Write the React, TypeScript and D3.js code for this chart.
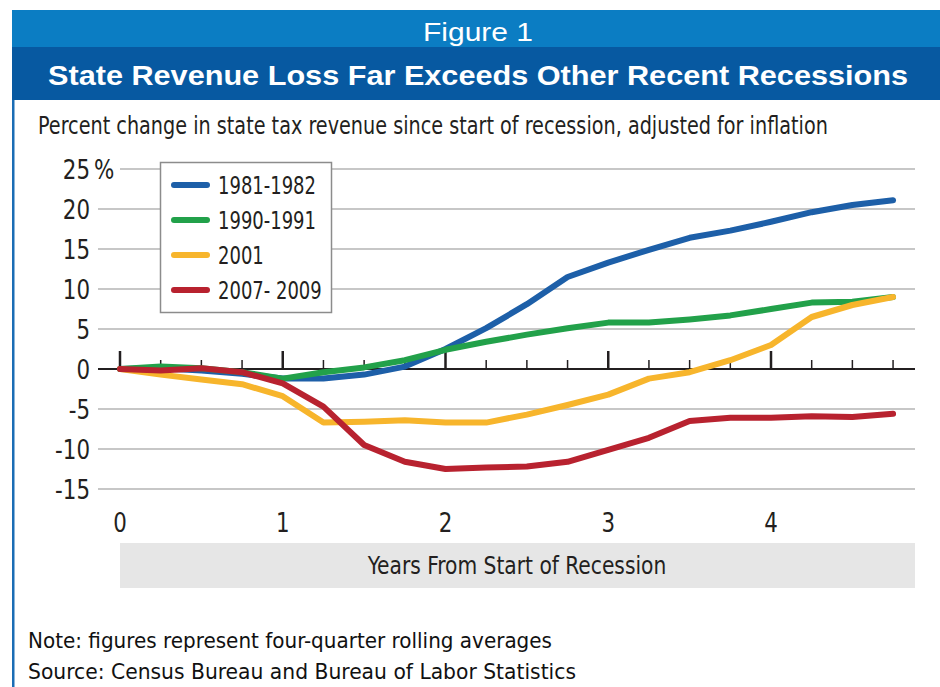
import * as d3 from "d3";

const years = [0, 0.25, 0.5, 0.75, 1, 1.25, 1.5, 1.75, 2, 2.25, 2.5, 2.75, 3, 3.25, 3.5, 3.75, 4, 4.25, 4.5, 4.75];
const r1981 = [0, 0.1, -0.2, -0.6, -1.2, -1.2, -0.7, 0.3, 2.5, 5.1, 8.1, 11.5, 13.3, 14.9, 16.4, 17.3, 18.4, 19.6, 20.5, 21.1];
const r1990 = [0, 0.3, 0.1, -0.4, -1.2, -0.4, 0.2, 1.1, 2.4, 3.4, 4.3, 5.1, 5.8, 5.8, 6.2, 6.7, 7.5, 8.3, 8.4, 9.0];
const r2001 = [0, -0.7, -1.3, -1.9, -3.4, -6.7, -6.6, -6.4, -6.7, -6.7, -5.7, -4.5, -3.2, -1.2, -0.4, 1.1, 3.0, 6.5, 8.0, 9.0];
const r2007 = [0, -0.2, 0.1, -0.4, -1.8, -4.7, -9.5, -11.6, -12.5, -12.3, -12.2, -11.6, -10.1, -8.6, -6.5, -6.1, -6.1, -5.9, -6.0, -5.6];

const seriesNames = ["1981-1982", "1990-1991", "2001", "2007- 2009"];
const seriesColors = ["#1d5fa8", "#22a14a", "#f7b52c", "#b8222f"];
const seriesValues = [r1981, r1990, r2001, r2007];

const yTicks = [25, 20, 15, 10, 5, 0, -5, -10, -15];
const xTicks = [0, 1, 2, 3, 4];
const minorTicks = [0.25, 0.5, 0.75, 1.25, 1.5, 1.75, 2.25, 2.5, 2.75, 3.25, 3.5, 3.75, 4.25, 4.5, 4.75];

const narrow = "'Liberation Sans Narrow', 'DejaVu Sans Condensed', sans-serif";
const sans = "'Liberation Sans', Arial, sans-serif";
const ink = "#231f20";

// condensed text: squeeze glyphs horizontally around the anchor point
function Condensed({ x, y, sx, size, anchor, children }: {
  x: number; y: number; sx: number; size: number; anchor?: string; children: React.ReactNode
}) {
  return (
    <text transform={`translate(${x},${y}) scale(${sx},1)`} textAnchor={anchor ?? "start"}
      fill={ink} fontFamily={narrow} fontSize={size}>{children}</text>
  );
}

export default function App() {
  const width = 940;
  const height = 687;

  const x = d3.scaleLinear().domain([0, 4]).range([120, 771]);
  const y = d3.scaleLinear().domain([-15, 25]).range([489, 169]);

  const line = d3.line<number>()
    .x((_, i) => x(years[i]))
    .y(d => y(d));

  const gridLeft = 98;
  const gridRight = 915;

  return (
    <svg width={width} height={height} style={{ position: "absolute", left: 0, top: 0, display: "block" }}>
      <rect x={0} y={0} width={width} height={height} fill="#fff" />
      {/* header bands */}
      <rect x={12} y={10} width={928} height={37} fill="#0b7dc3" />
      <rect x={12} y={47} width={928} height={53} fill="#0759a1" />
      <rect x={12} y={100} width={2.5} height={587} fill="#1a6db5" />
      <text x={478} y={41} textAnchor="middle" fill="#fff" fontFamily={sans} fontSize={25}
        textLength={110} lengthAdjust="spacingAndGlyphs">Figure 1</text>
      <text x={478} y={85} textAnchor="middle" fill="#fff" fontFamily={sans} fontWeight="bold" fontSize={28}
        textLength={860} lengthAdjust="spacingAndGlyphs">State Revenue Loss Far Exceeds Other Recent Recessions</text>

      <Condensed x={38} y={134} sx={0.855} size={25}>
        Percent change in state tax revenue since start of recession, adjusted for inflation
      </Condensed>

      {/* gridlines */}
      {yTicks.filter(t => t !== 0).map(t => (
        <line key={t} x1={t === 25 ? 120 : gridLeft} x2={gridRight} y1={y(t)} y2={y(t)} stroke="#b5b5b5" strokeWidth={1.5} />
      ))}
      {yTicks.map(t => (
        <Condensed key={"l" + t} x={90} y={y(t) + 10} sx={0.88} size={27} anchor="end">{t}</Condensed>
      ))}
      <Condensed x={94} y={y(25) + 10} sx={0.88} size={27}>%</Condensed>

      {/* zero axis and ticks */}
      <line x1={gridLeft} x2={gridRight} y1={y(0)} y2={y(0)} stroke={ink} strokeWidth={2} />
      {xTicks.map(t => (
        <line key={"M" + t} x1={x(t)} x2={x(t)} y1={y(0)} y2={y(0) - 18} stroke={ink} strokeWidth={2.5} />
      ))}
      {minorTicks.map(t => (
        <line key={"m" + t} x1={x(t)} x2={x(t)} y1={y(0)} y2={y(0) - 9} stroke={ink} strokeWidth={1.5} />
      ))}
      {xTicks.map(t => (
        <Condensed key={"x" + t} x={x(t)} y={532} sx={0.88} size={27} anchor="middle">{t}</Condensed>
      ))}

      {/* series */}
      {seriesValues.map((vals, i) => (
        <path key={seriesNames[i]} d={line(vals) ?? ""} fill="none" stroke={seriesColors[i]}
          strokeWidth={6} strokeLinecap="round" strokeLinejoin="round" />
      ))}

      {/* legend */}
      <rect x={160.5} y={162.5} width={171} height={150} fill="#fff" stroke="#8c8c8c" strokeWidth={1.5} />
      {seriesNames.map((name, i) => (
        <g key={"lg" + name} transform={`translate(0, ${185 + i * 35})`}>
          <line x1={174} x2={207} y1={0} y2={0} stroke={seriesColors[i]} strokeWidth={6} strokeLinecap="round" />
          <Condensed x={218} y={9} sx={0.8} size={25}>{name}</Condensed>
        </g>
      ))}

      {/* x axis title band */}
      <rect x={120} y={543} width={795} height={45} fill="#e6e6e6" />
      <Condensed x={517} y={574} sx={0.9} size={25} anchor="middle">Years From Start of Recession</Condensed>

      <text x={28} y={648} fill="#111" fontFamily={narrow} fontSize={21}
        textLength={524} lengthAdjust="spacingAndGlyphs">Note: figures represent four-quarter rolling averages</text>
      <text x={28} y={679} fill="#111" fontFamily={narrow} fontSize={21}
        textLength={548} lengthAdjust="spacingAndGlyphs">Source: Census Bureau and Bureau of Labor Statistics</text>
    </svg>
  );
}
